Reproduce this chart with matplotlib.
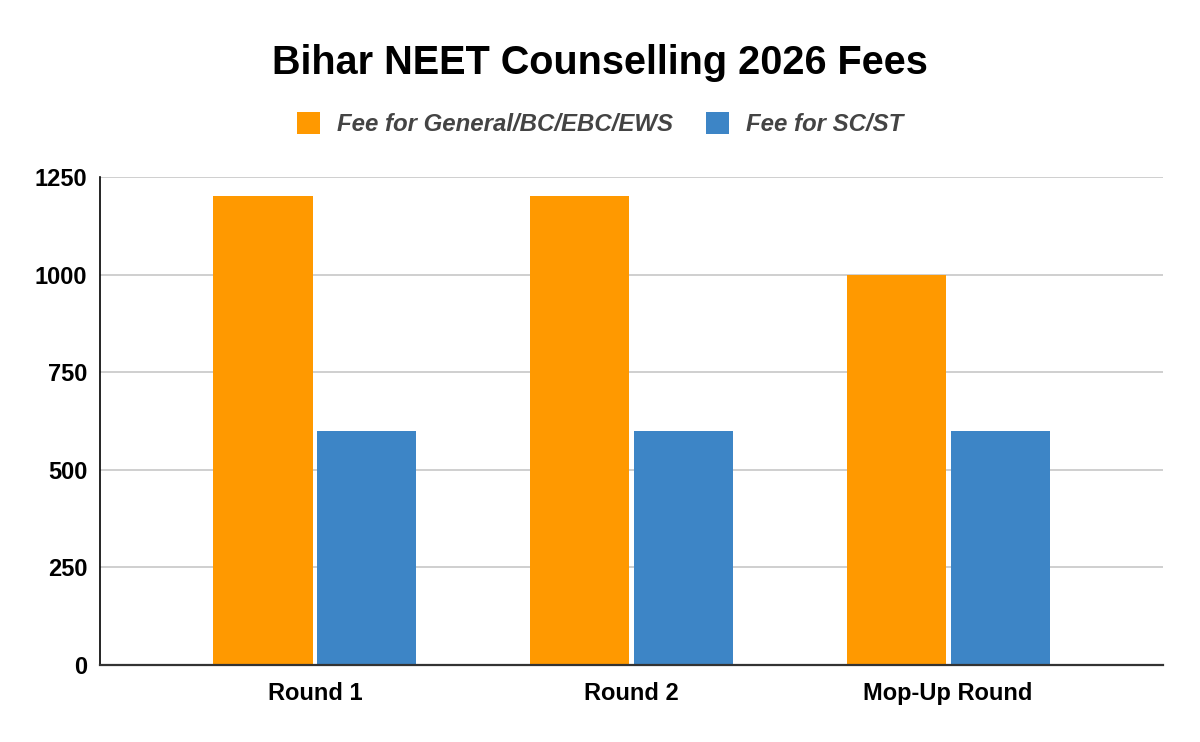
import matplotlib.pyplot as plt
import numpy as np

plt.rcParams['font.family'] = ['Liberation Sans', 'DejaVu Sans']

rounds = ['Round 1', 'Round 2', 'Mop-Up Round']
fee_general = [1200, 1200, 1000]
fee_sc_st = [600, 600, 600]
series_names = ['Fee for General/BC/EBC/EWS', 'Fee for SC/ST']
yticks = [0, 250, 500, 750, 1000, 1250]

fig = plt.figure(figsize=(12, 7.42), dpi=100)
ax = fig.add_axes([0.0833, 0.1038, 0.886, 0.6577])

x = np.arange(len(rounds))
w = 0.313
ax.bar(x - 0.164, fee_general, w, color='#ff9900', label=series_names[0], zorder=3)
ax.bar(x + 0.164, fee_sc_st, w, color='#3d85c6', label=series_names[1], zorder=3)

ax.set_xlim(-0.679, 2.679)
ax.set_ylim(0, 1250)
ax.set_yticks(yticks)
ax.set_xticks(x)
ax.set_xticklabels(rounds)
ax.yaxis.grid(True, color='#cccccc', lw=1.3, zorder=0)
ax.tick_params(length=0, labelsize=17)
for lab in ax.get_xticklabels() + ax.get_yticklabels():
    lab.set_fontweight('bold')
ax.tick_params(axis='y', pad=9)
ax.tick_params(axis='x', pad=12)

for s in ['top', 'right']:
    ax.spines[s].set_visible(False)
ax.spines['left'].set_color('black')
ax.spines['left'].set_linewidth(1.2)
ax.spines['bottom'].set_color('#333333')
ax.spines['bottom'].set_linewidth(1.6)
ax.spines['bottom'].set_zorder(4)

fig.text(0.5, 0.915, 'Bihar NEET Counselling 2026 Fees', ha='center', va='center',
         fontsize=28.5, fontweight='bold')

leg = fig.legend(loc='center', bbox_to_anchor=(0.5, 0.833), ncol=2, frameon=False,
                 prop={'size': 17.3, 'style': 'italic', 'weight': 'bold'},
                 handlelength=0.95, handleheight=1.05, handletextpad=0.7, columnspacing=1.4)
for t in leg.get_texts():
    t.set_color('#444444')

fig.savefig('out.png', dpi=100)
